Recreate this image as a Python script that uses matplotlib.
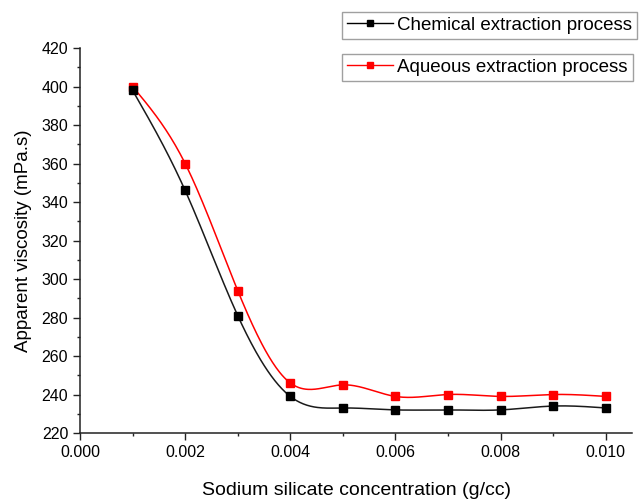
import numpy as np
import matplotlib
matplotlib.use('Agg')
import matplotlib.pyplot as plt
import matplotlib.lines as mlines
from matplotlib.ticker import MultipleLocator, FormatStrFormatter

plt.rcParams['font.family'] = ['Liberation Sans', 'DejaVu Sans']

# values
conc = [0.001, 0.002, 0.003, 0.004, 0.005, 0.006, 0.007, 0.008, 0.009, 0.010]
chemical = [398, 346, 281, 239, 233, 232, 232, 232, 234, 233]
aqueous = [400, 360, 294, 246, 245, 239, 240, 239, 240, 239]


def natural_spline(x, y, n=400):
    # smooth connecting curve, like Origin's spline line style
    x = np.asarray(x, float)
    y = np.asarray(y, float)
    k = len(x)
    h = np.diff(x)
    A = np.zeros((k, k))
    b = np.zeros(k)
    A[0, 0] = A[-1, -1] = 1
    for i in range(1, k - 1):
        A[i, i - 1] = h[i - 1]
        A[i, i] = 2 * (h[i - 1] + h[i])
        A[i, i + 1] = h[i]
        b[i] = 6 * ((y[i + 1] - y[i]) / h[i] - (y[i] - y[i - 1]) / h[i - 1])
    M = np.linalg.solve(A, b)
    xs = np.linspace(x[0], x[-1], n)
    idx = np.clip(np.searchsorted(x, xs) - 1, 0, k - 2)
    x0, x1 = x[idx], x[idx + 1]
    hh = x1 - x0
    t0, t1 = x1 - xs, xs - x0
    ys = (M[idx] * t0 ** 3 + M[idx + 1] * t1 ** 3) / (6 * hh) \
        + (y[idx] / hh - M[idx] * hh / 6) * t0 \
        + (y[idx + 1] / hh - M[idx + 1] * hh / 6) * t1
    return xs, ys


fig = plt.figure(figsize=(6.39, 4.99), dpi=100)
ax = fig.add_axes([80 / 639, 66 / 499, 552 / 639, 385 / 499])

xs, ys = natural_spline(conc, aqueous)
ax.plot(xs, ys, color='red', lw=1.1)
ax.plot(conc, aqueous, 's', color='red', ms=6)
xs, ys = natural_spline(conc, chemical)
ax.plot(xs, ys, color='#1a1a1a', lw=1.1)
ax.plot(conc, chemical, 's', color='black', ms=6)

ax.set_xlim(0, 0.0105)
ax.set_ylim(220, 420)
ax.xaxis.set_major_locator(MultipleLocator(0.002))
ax.xaxis.set_minor_locator(MultipleLocator(0.001))
ax.xaxis.set_major_formatter(FormatStrFormatter('%.3f'))
ax.yaxis.set_major_locator(MultipleLocator(20))
ax.yaxis.set_minor_locator(MultipleLocator(10))
ax.spines['top'].set_visible(False)
ax.spines['right'].set_visible(False)
ax.tick_params(which='major', length=5, width=1, labelsize=11.5, color='#222222')
ax.tick_params(which='minor', length=2.5, width=1, color='#222222')
for s in ('left', 'bottom'):
    ax.spines[s].set_linewidth(1.1)
    ax.spines[s].set_color('#222222')

ax.set_xlabel('Sodium silicate concentration (g/cc)', fontsize=14, labelpad=16)
ax.set_ylabel('Apparent viscosity (mPa.s)', fontsize=13.5, labelpad=7)

h1 = mlines.Line2D([], [], color='black', marker='s', ms=5, lw=1, label='Chemical extraction process')
h2 = mlines.Line2D([], [], color='red', marker='s', ms=5, lw=1, label='Aqueous extraction process')
for h, ytop in ((h1, 1 - 12 / 499), (h2, 1 - 54 / 499)):
    leg = fig.legend(handles=[h], loc='upper left', bbox_to_anchor=(342 / 639, ytop),
                     fontsize=13.5, frameon=True, fancybox=False, borderaxespad=0,
                     borderpad=0.25, handlelength=2.45, handletextpad=0.25)
    leg.get_frame().set_edgecolor('#888888')
    leg.get_frame().set_linewidth(1)

fig.savefig('out.png', dpi=100)
